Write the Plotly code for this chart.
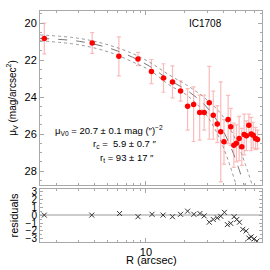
import plotly.graph_objects as go

# ---------------- data ----------------
R_data = [1.62, 3.82, 6.16, 8.68, 11.04, 13.7, 16.1, 18.6, 21.1, 23.5, 26.2, 28.4, 31.1,
          33.4, 35.9, 38.2, 40.5, 43.6, 45.7, 48.3, 50.6, 53.1, 55.7, 58.1, 60.5, 63.2,
          65.9, 68.3, 71.2, 73.8]
mu_data = [20.84, 21.08, 21.80, 21.94, 22.62, 22.97, 23.18, 23.67, 24.49, 24.40, 24.83, 24.83, 24.31,
           24.98, 25.46, 25.88, 26.42, 25.21, 25.61, 26.60, 26.50, 26.24, 26.69, 26.02, 26.09, 25.52,
           26.00, 26.06, 26.24, 26.29]
err_up = [0.83, 0.56, 1.05, 0.36, 0.65, 0.77, 0.86, 0.55, 0.95, 0.95, 0.93, 0.93, 1.97,
          1.30, 1.00, 2.70, 1.20, 1.30, 1.00, 1.20, 1.00, 1.20, 1.00, 1.10, 0.80, 0.60,
          0.90, 0.70, 0.60, 0.50]
err_dn = [0.83, 0.56, 1.05, 0.36, 0.65, 0.77, 0.86, 0.55, 1.30, 2.00, 1.50, 0.96, 1.97,
          1.30, 1.00, 2.70, 1.20, 1.30, 1.00, 1.20, 1.00, 1.20, 1.00, 1.10, 0.80, 0.60,
          0.90, 0.70, 0.60, 0.50]

# model curves
R_fit = [1.5, 3.04, 5.21, 7.88, 10.7, 15.3, 20.8, 28.8, 37.7, 46.8, 58.1]
mu_fit = [20.83, 20.99, 21.36, 21.85, 22.34, 23.09, 23.63, 24.44, 25.52, 26.87, 28.75]
R_hi = [1.5, 3.04, 5.21, 7.88, 10.7, 15.3, 20.8, 28.8, 39.1, 52.1, 67.1]
mu_hi = [20.64, 20.83, 21.20, 21.65, 22.12, 22.82, 23.36, 24.06, 24.98, 26.60, 28.75]
R_lo = [1.5, 3.04, 5.21, 7.88, 10.7, 15.3, 20.8, 28.8, 36.4, 43.6, 50.3]
mu_lo = [20.96, 21.18, 21.58, 22.10, 22.55, 23.36, 23.90, 24.87, 26.06, 27.41, 28.75]

# residuals
R_res = [1.62, 3.79, 6.24, 8.68, 11.16, 13.6, 16.1, 18.6, 21.1, 23.6, 26.3, 28.4, 31.1, 33.4,
         35.9, 38.2, 40.8, 43.0, 45.7, 48.5, 50.9, 53.4, 56.7, 60.2, 63.2, 65.9, 69.5, 73.0]
res = [0.0, 0.0, 0.2, -0.2, 0.1, 0.0, -0.2, 0.1, 0.5, 0.1, 0.2, -0.1, -0.9, -0.55,
       -0.35, -0.15, 0.35, -1.2, -1.05, -0.2, -0.55, -0.9, -1.8, -2.0, -2.9, -2.75, -3.0, -3.3]

x_minor = [2, 3, 4, 5, 6, 7, 8, 9, 20, 30, 40, 50, 60, 70, 80]

FONT = "Liberation Sans, Arial, Helvetica, sans-serif"
FRAME = "#a8a8a8"
PLOT_H = 231.0  # plot-area height in px (t=11, b=28)


def py(px):
    """paper y from pixel row"""
    return (242 - px) / PLOT_H


fig = go.Figure()

fig.add_trace(go.Scatter(x=R_hi, y=mu_hi, mode="lines", xaxis="x2", yaxis="y2",
                         line=dict(color="#999", width=1, dash="dot", shape="spline")))
fig.add_trace(go.Scatter(x=R_lo, y=mu_lo, mode="lines", xaxis="x2", yaxis="y2",
                         line=dict(color="#999", width=1, dash="dot", shape="spline")))
fig.add_trace(go.Scatter(x=R_fit, y=mu_fit, mode="lines", xaxis="x2", yaxis="y2",
                         line=dict(color="#777", width=1, dash="dash", shape="spline")))

fig.add_trace(go.Scatter(x=R_data, y=mu_data, mode="markers", xaxis="x2", yaxis="y2",
                         marker=dict(color="#ff0000", size=5.5, symbol="circle"),
                         error_y=dict(type="data", array=err_dn, arrayminus=err_up,
                                      color="rgba(245,120,120,0.5)", thickness=1.2, width=2)))

fig.add_trace(go.Scatter(x=[1.5, 80], y=[0, 0], mode="lines", xaxis="x", yaxis="y",
                         line=dict(color="#cccccc", width=2)))
fig.add_trace(go.Scatter(x=R_res, y=res, mode="markers", xaxis="x", yaxis="y",
                         marker=dict(symbol="x-thin-open", size=5, color="#333",
                                     line=dict(width=1, color="#333"))))

common_x = dict(type="log", range=[0.1761, 1.903], showgrid=False, zeroline=False,
                showline=True, linecolor=FRAME, linewidth=1, mirror="ticks",
                ticks="inside", ticklen=4, tickcolor=FRAME, tickvals=[10],
                minor=dict(tickvals=x_minor, ticks="inside", ticklen=2, tickcolor=FRAME))

fig.update_layout(
    width=270, height=270, showlegend=False,
    margin=dict(l=40, r=8, t=11, b=28),
    paper_bgcolor="white", plot_bgcolor="white",
    font=dict(family=FONT, size=11, color="black"),
    xaxis=dict(common_x, anchor="y", domain=[0, 1], ticktext=["10"],
               tickfont=dict(size=11)),
    xaxis2=dict(common_x, anchor="y2", domain=[0, 1], matches="x", showticklabels=False),
    yaxis=dict(domain=[0, 0.2294], range=[-3.4, 3.3], showgrid=False, zeroline=False,
               showline=True, linecolor=FRAME, mirror="ticks", ticks="inside", ticklen=3,
               tickcolor=FRAME, tickvals=[-3, -2, -1, 0, 1, 2, 3],
               ticktext=["\u22123", "\u22122", "\u22121", "0", "1", "2", "3"],
               tickfont=dict(size=10),
               minor=dict(dtick=0.5, ticks="inside", ticklen=2, tickcolor=FRAME),
               title=dict(text="residuals", font=dict(size=11), standoff=4)),
    yaxis2=dict(domain=[0.2468, 1], range=[28.75, 19.35], showgrid=False, zeroline=False,
                showline=True, linecolor=FRAME, mirror="ticks", ticks="inside", ticklen=4,
                tickcolor=FRAME, tickvals=[20, 22, 24, 26, 28], tickfont=dict(size=11),
                minor=dict(dtick=0.5, ticks="inside", ticklen=2, tickcolor=FRAME),
                title=dict(text="\u03bc<sub>V</sub> (mag/arcsec<sup>2</sup>)",
                           font=dict(size=10), standoff=6)),
)

fig.add_annotation(x=0.5, y=py(260), xref="paper", yref="paper", text="R (arcsec)",
                   showarrow=False, font=dict(size=11), xanchor="center", yanchor="middle")
fig.add_annotation(x=0.745, y=py(23), xref="paper", yref="paper", text="IC1708",
                   showarrow=False, font=dict(size=10), xanchor="center", yanchor="middle")

ann = [
    ("\u03bc<sub>V0</sub> = 20.7 \u00b1 0.1 mag (\u2033)<sup>\u22122</sup>", 0.057, 130),
    ("r<sub>c</sub> =  5.9 \u00b1 0.7 \u2033", 0.23, 144),
    ("r<sub>t</sub> = 93 \u00b1 17 \u2033", 0.26, 158),
]
for txt, xx, yy in ann:
    fig.add_annotation(x=xx, y=py(yy), xref="paper", yref="paper", text=txt, showarrow=False,
                       font=dict(size=9.5), xanchor="left", yanchor="middle")

fig.write_html("out.html", config={"displayModeBar": False},
               post_script="document.body.style.margin='0';document.body.style.overflow='hidden';")
